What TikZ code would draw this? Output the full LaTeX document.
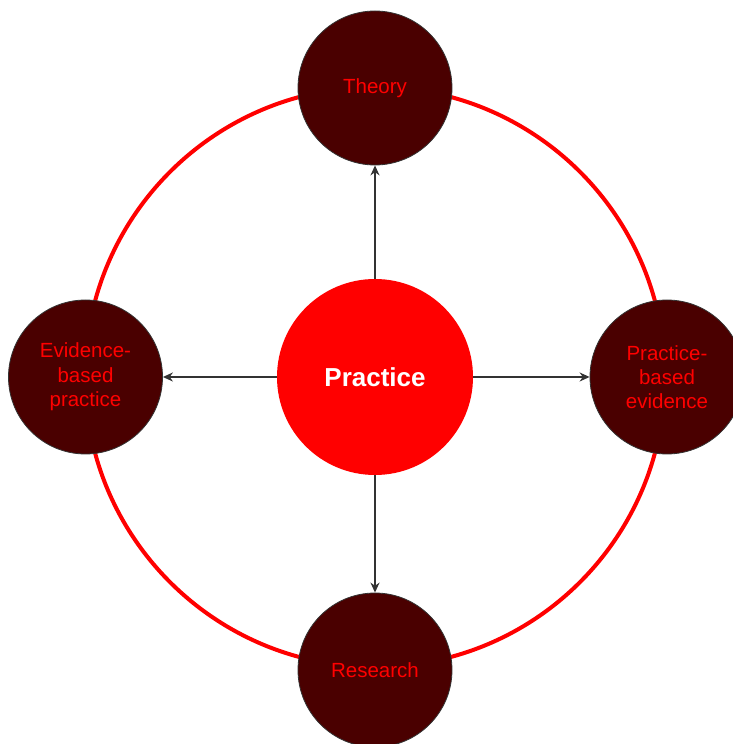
\documentclass[tikz,border=0pt]{standalone}
\usepackage{fontspec}
\setmainfont{Liberation Sans}
\usetikzlibrary{arrows.meta}
\definecolor{nodefill}{HTML}{4A0000}
\definecolor{pred}{HTML}{FF0000}
\definecolor{edgegray}{HTML}{333333}
\tikzset{
  outer/.style={circle, draw=edgegray, line width=0.8pt, fill=nodefill, minimum size=154pt, inner sep=0pt, text=pred, align=center, font=\fontsize{20.5}{24.3}\selectfont},
  hub/.style={circle, fill=pred, minimum size=196pt, inner sep=0pt, text=white, font=\fontsize{26}{30}\selectfont\bfseries},
  link/.style={draw=edgegray, line width=1.8pt, -{Stealth[length=10pt,width=9pt]}},
  ring/.style={draw=pred, line width=4pt}
}
\begin{document}
\begin{tikzpicture}[x=1pt,y=1pt]
\useasboundingbox (0,0) rectangle (733,744);
\coordinate (c) at (375,367);
\draw[ring] (c) circle (290);
\node[hub] (P) at (c) {Practice};
\node[outer] (T) at (375,656) {Theory};
\node[outer] (E) at (85.5,367) {Evidence-\\based\\practice};
\node[outer] (B) at (667,367) {Practice-\\based\\evidence};
\node[outer] (R) at (375,74) {Research};
\draw[link] (P) -- (T);
\draw[link] (P) -- (E);
\draw[link] (P) -- (B);
\draw[link] (P) -- (R);
\end{tikzpicture}
\end{document}
